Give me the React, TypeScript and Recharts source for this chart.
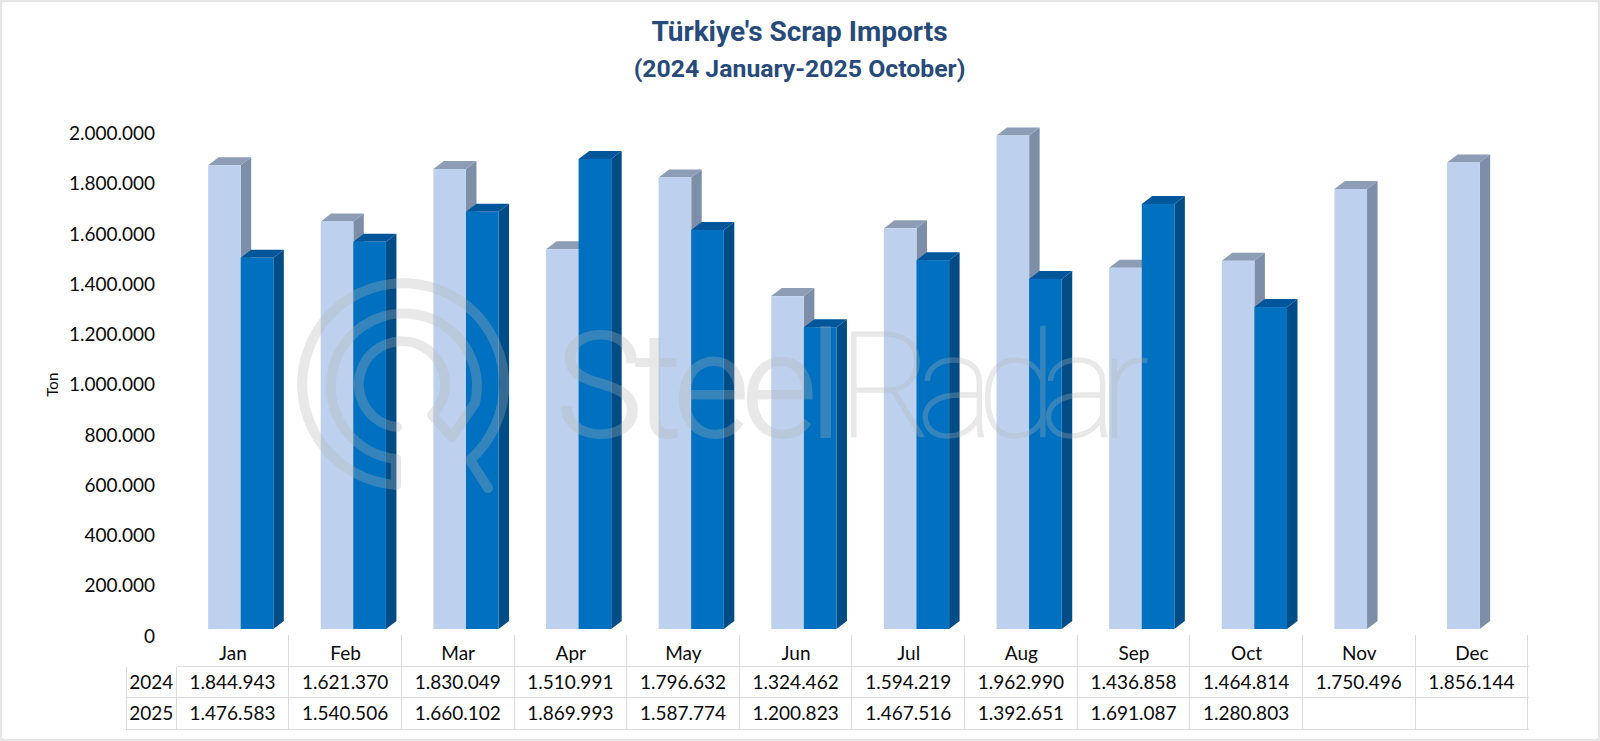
import { BarChart, Bar, XAxis, YAxis } from "recharts";

const months = ["Jan", "Feb", "Mar", "Apr", "May", "Jun", "Jul", "Aug", "Sep", "Oct", "Nov", "Dec"];
const imports2024 = [1844943, 1621370, 1830049, 1510991, 1796632, 1324462, 1594219, 1962990, 1436858, 1464814, 1750496, 1856144];
const imports2025 = [1476583, 1540506, 1660102, 1869993, 1587774, 1200823, 1467516, 1392651, 1691087, 1280803, null, null];
const yTicks = [0, 200000, 400000, 600000, 800000, 1000000, 1200000, 1400000, 1600000, 1800000, 2000000];

const rows = months.map((month, i) => ({ month, y2024: imports2024[i], y2025: imports2025[i] }));

const fmt = (v: number | null) => (v == null ? "" : String(v).replace(/\B(?=(\d{3})+(?!\d))/g, "."));

const FONT = "Lato, sans-serif";
const INK = "#0a0a0a";
const GRID = "#dcdcdc";
const DX = 10.5;
const DY = 8;

// fake 3D column: front face plus top and side parallelograms
function Column({ x, y, width, height, value, front, top, side }: any) {
  if (value == null || !height) return null;
  const r = x + width;
  const b = y + height;
  return (
    <g>
      <polygon points={`${r},${y} ${r + DX},${y - DY} ${r + DX},${b - DY} ${r},${b}`} fill={side} />
      <polygon points={`${x},${y} ${x + DX},${y - DY} ${r + DX},${y - DY} ${r},${y}`} fill={top} />
      <rect x={x} y={y} width={width} height={height} fill={front} />
    </g>
  );
}

function Watermark() {
  return (
    <svg width={1600} height={741} style={{ position: "absolute", left: 0, top: 0, pointerEvents: "none" }}>
      <g opacity={0.3}>
        <g fill="none" stroke="#b4b4b4" strokeWidth={10} strokeLinecap="round" strokeLinejoin="round">
          <path d="M396 485 A101 101 0 1 1 470 460 L488 488" />
          <path d="M396 459 A73 73 0 1 1 475 403 L452 437 L432 415 A43 43 0 1 0 397 427" />
          <path d="M396 459 L396 485" />
        </g>
        <g fontFamily="Roboto, sans-serif" fontSize={146} fill="#b4b4b4" stroke="#b4b4b4">
          <text x={556} y={437} fontWeight={300} strokeWidth={2} textLength={286}>Steel</text>
          <text x={838} y={437} fontWeight={100} strokeWidth={1.5} textLength={311}>Radar</text>
        </g>
      </g>
    </svg>
  );
}

function DataRows() {
  const colW = 112.63;
  const cell = (w: number, text: string, first = false): any => (
    <div
      style={{
        width: w,
        boxSizing: "border-box",
        height: "100%",
        borderRight: `1px solid ${GRID}`,
        borderLeft: first ? `1px solid ${GRID}` : "none",
        textAlign: "center",
        lineHeight: "29px",
      }}
    >
      {text}
    </div>
  );
  const row = (label: string, vals: (number | null)[]) => (
    <div style={{ display: "flex", height: 31.5, borderBottom: `1px solid ${GRID}`, boxSizing: "border-box" }}>
      {cell(51, label, true)}
      {vals.map((v, i) => (
        <div key={i}>{cell(colW, fmt(v))}</div>
      ))}
    </div>
  );
  return (
    <div style={{ position: "absolute", left: 125.7, top: 635, width: 1403, fontFamily: FONT, fontSize: 19, color: INK }}>
      <div style={{ display: "flex", height: 31.5, borderBottom: `1px solid ${GRID}`, boxSizing: "border-box" }}>
        <div style={{ width: 51, boxSizing: "border-box", background: "#fff", marginBottom: -1 }} />
        {months.map((m) => (
          <div key={m} style={{ width: colW, boxSizing: "border-box", borderRight: `1px solid ${GRID}` }} />
        ))}
      </div>
      {row("2024", imports2024)}
      {row("2025", imports2025)}
    </div>
  );
}

export default function App() {
  return (
    <div style={{ position: "absolute", left: 0, top: 0, width: 1600, height: 741, background: "#e6e6e6", overflow: "hidden" }}>
      <div style={{ position: "absolute", left: 2, top: 2, width: 1596, height: 737, background: "#fff", borderRadius: 3 }} />
      <div style={{ position: "absolute", left: 0, top: 14, width: 1599, textAlign: "center", fontFamily: "Roboto, sans-serif", fontWeight: 700, color: "#264a7a" }}>
        <div style={{ fontSize: 28, lineHeight: "36px" }}>Türkiye's Scrap Imports</div>
        <div style={{ fontSize: 24.8, lineHeight: "37px" }}>(2024 January-2025 October)</div>
      </div>
      <div style={{ position: "absolute", left: 0, top: 0 }}>
        <DataRows />
      </div>
      <div style={{ position: "absolute", left: 0, top: 0 }}>
        <BarChart
          width={1600}
          height={741}
          data={rows}
          barSize={32.6}
          barGap={0}
          margin={{ top: 126.3, right: 64.3, bottom: 52, left: 124.1 }}
        >
          <XAxis
            dataKey="month"
            height={60}
            axisLine={false}
            tickLine={false}
            tickSize={0}
            tickMargin={18}
            interval={0}
            tick={{ fill: INK, fontSize: 19, fontFamily: FONT, dx: -7.5 }}
          />
          <YAxis
            width={60}
            domain={[0, 2000000]}
            ticks={yTicks}
            interval={0}
            axisLine={false}
            tickLine={false}
            tickSize={0}
            tickMargin={29.1}
            tickFormatter={fmt}
            tick={{ fill: INK, fontSize: 19, fontFamily: FONT, dy: 7 }}
            label={{ value: "Ton", angle: -90, position: "insideLeft", dx: -76, dy: 19, fill: INK, fontSize: 15, fontFamily: FONT }}
          />
          <Bar
            dataKey="y2024"
            isAnimationActive={false}
            shape={(p: any) => <Column {...p} value={p.y2024} front="#bdd1ee" top="#8c9db5" side="#7d8ea8" />}
          />
          <Bar
            dataKey="y2025"
            isAnimationActive={false}
            shape={(p: any) => <Column {...p} value={p.y2025} front="#0070c0" top="#00569b" side="#004c86" />}
          />
        </BarChart>
      </div>
      <Watermark />
    </div>
  );
}
